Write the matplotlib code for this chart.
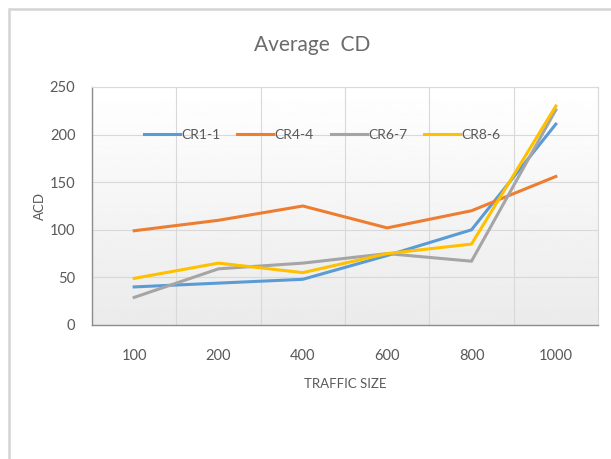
import numpy as np
import matplotlib
matplotlib.use("Agg")
import matplotlib.pyplot as plt
from matplotlib.patches import Rectangle

plt.rcParams['font.family'] = ['Lato', 'DejaVu Sans']

# data
traffic_sizes = ['100', '200', '400', '600', '800', '1000']
cr1_1 = [40, 44, 48, 73, 100, 211]
cr4_4 = [99, 110, 125, 102, 120, 156]
cr6_7 = [29, 59, 65, 75, 67, 226]
cr8_6 = [49, 65, 55, 75, 85, 230]

series = [
    ('CR1-1', cr1_1, '#5B9BD5'),
    ('CR4-4', cr4_4, '#ED7D31'),
    ('CR6-7', cr6_7, '#A5A5A5'),
    ('CR8-6', cr8_6, '#FFC000'),
]

W, H = 611, 459
fig = plt.figure(figsize=(W / 100, H / 100), dpi=100)

# light border of the chart area, running off right and bottom
fig.patches.append(Rectangle((9 / W, -0.1), 1.0, 1 - 9 / H + 0.1,
                             transform=fig.transFigure, fill=False,
                             edgecolor='#d4d4d4', linewidth=1.8))

ax = fig.add_axes([92 / W, 1 - 325 / H, 506 / W, 238 / H])

x = np.arange(len(traffic_sizes))
n = len(traffic_sizes)

# soft gradient background (white at top, light grey at bottom)
grad = np.linspace(0.92, 1.0, 256).reshape(-1, 1)
ax.imshow(grad, cmap='gray', vmin=0, vmax=1, aspect='auto', origin='lower',
          extent=(-0.5, n - 0.5, 0, 250), zorder=0)
ax.set_xlim(-0.5, n - 0.5)
ax.set_ylim(0, 250)

for name, vals, col in series:
    ax.plot(x, vals, color=col, linewidth=2.2, label=name, zorder=3)

ax.set_xticks(x)
ax.set_xticklabels(traffic_sizes)
ax.set_yticks(range(0, 251, 50))
ax.set_xticks(np.arange(-0.5, n, 1), minor=True)
ax.tick_params(which='both', length=0)
ax.tick_params(axis='y', labelsize=10.5, labelcolor='#595959', pad=12)
ax.tick_params(axis='x', labelsize=10.5, labelcolor='#595959', pad=17)
ax.grid(axis='y', color='#d9d9d9', linewidth=0.8)
ax.grid(axis='x', which='minor', color='#d9d9d9', linewidth=0.8)

for side in ['top', 'right']:
    ax.spines[side].set_color('#d9d9d9')
for side in ['left', 'bottom']:
    ax.spines[side].set_color('#8c8c8c')
    ax.spines[side].set_linewidth(1.0)

fig.text(312 / W, 1 - 45 / H, 'Average  CD', fontsize=15, color='#6b6b6b',
         ha='center', va='center')
ax.set_xlabel('TRAFFIC SIZE', fontsize=9.5, color='#595959', labelpad=11)
ax.set_ylabel('ACD', fontsize=9.5, color='#595959', labelpad=3)

ax.legend(loc='center', bbox_to_anchor=(0.455, 0.80), ncol=4, frameon=False,
          fontsize=10, labelcolor='#595959', handlelength=2.6,
          columnspacing=1.2, handletextpad=0.1)

fig.savefig('out.png', dpi=100)
